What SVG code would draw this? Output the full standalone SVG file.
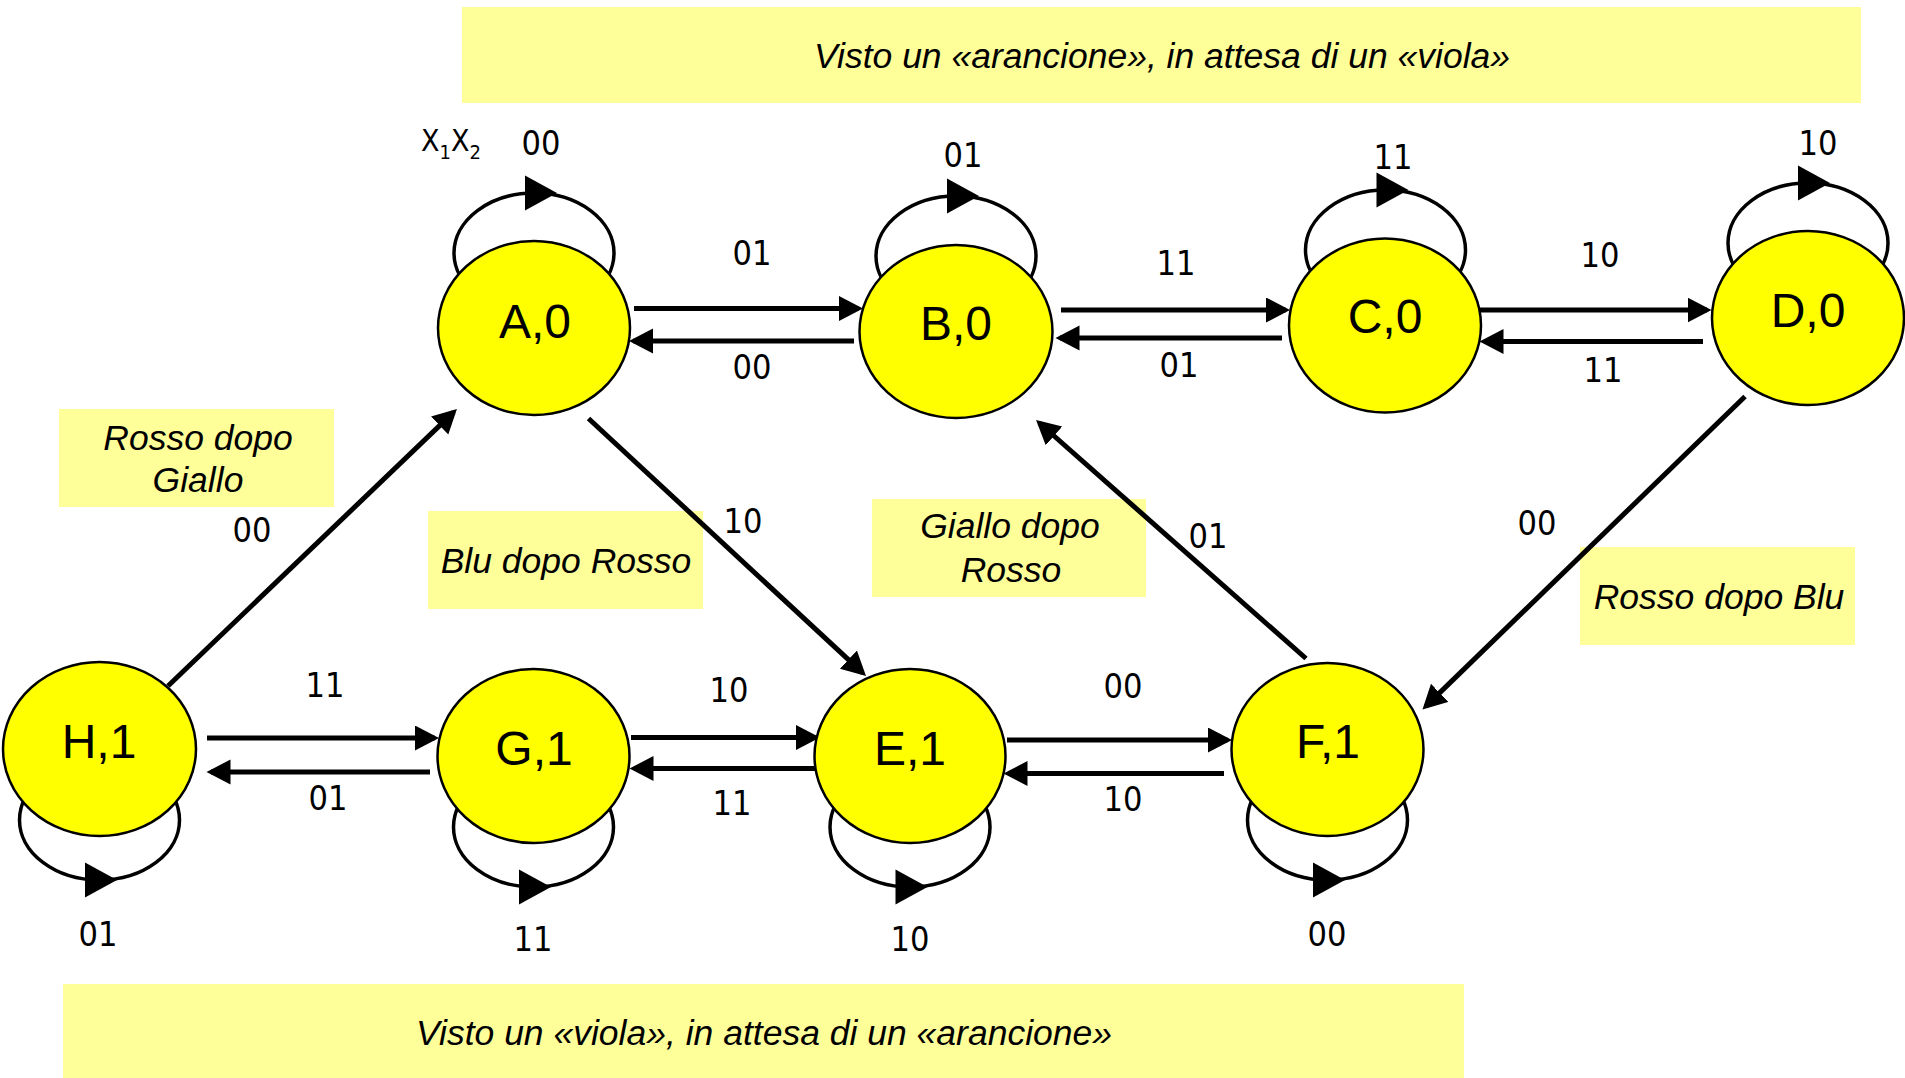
<svg xmlns="http://www.w3.org/2000/svg" xmlns:xlink="http://www.w3.org/1999/xlink" width="1905" height="1078" viewBox="0 0 1905 1078">
  <style>
    .state { fill: #FFFF00; stroke: #000; stroke-width: 2.5; }
    .state-label { font-family: "Liberation Sans", Arial, sans-serif; font-size: 48px; fill: #000; text-anchor: middle; }
    .note { fill: #FFFF99; stroke: none; }
    .note-text { font-family: "Liberation Sans", Arial, sans-serif; font-style: italic; font-size: 35.5px; fill: #000; text-anchor: middle; }
    .edge { fill: none; stroke: #000; stroke-width: 5; marker-end: url(#head); }
    .loop { fill: none; stroke: #000; stroke-width: 3.5; }
    .lbl { font-family: "DejaVu Sans Condensed", "DejaVu Sans", sans-serif; font-stretch: condensed; font-size: 34px; fill: #000; text-anchor: middle; }
    .vars { font-family: "DejaVu Sans Condensed", "DejaVu Sans", sans-serif; font-stretch: condensed; font-size: 30px; fill: #000; }
  </style>
  <defs>
    <marker id="head" markerUnits="userSpaceOnUse" markerWidth="26" markerHeight="26" refX="19.5" refY="12.5" orient="auto" viewBox="0 0 26 26">
      <path d="M0,0 L24,12.5 L0,25 Z" fill="#000"/>
    </marker>
    <path id="loopHead" d="M-16,-17.5 L16,0 L-16,17.5 Z" fill="#000"/>
  </defs>

  <rect width="1905" height="1078" fill="#fff"/>

  <!-- annotation boxes -->
  <g id="notes">
    <g id="note-top">
      <rect class="note" x="462" y="7" width="1399" height="96"/>
      <text class="note-text" x="1162" y="68">Visto un «arancione», in attesa di un «viola»</text>
    </g>
    <g id="note-bottom">
      <rect class="note" x="63" y="984" width="1401" height="94"/>
      <text class="note-text" x="764" y="1045">Visto un «viola», in attesa di un «arancione»</text>
    </g>
    <g id="note-rg">
      <rect class="note" x="59" y="409" width="275" height="98"/>
      <text class="note-text" x="198" y="450">Rosso dopo</text>
      <text class="note-text" x="198" y="492">Giallo</text>
    </g>
    <g id="note-br">
      <rect class="note" x="428" y="511" width="275" height="98"/>
      <text class="note-text" x="566" y="573">Blu dopo Rosso</text>
    </g>
    <g id="note-gr">
      <rect class="note" x="872" y="499" width="274" height="98"/>
      <text class="note-text" x="1010" y="538">Giallo dopo</text>
      <text class="note-text" x="1011" y="582">Rosso</text>
    </g>
    <g id="note-rb">
      <rect class="note" x="1580" y="547" width="275" height="98"/>
      <text class="note-text" x="1719" y="609">Rosso dopo Blu</text>
    </g>
  </g>

  <!-- transitions -->
  <g id="connectors">
    <!-- self loops (lower part hidden behind the state) -->
    <ellipse class="loop" cx="534" cy="253" rx="80" ry="60"/>
    <use xlink:href="#loopHead" x="541" y="193"/>
    <ellipse class="loop" cx="956" cy="256" rx="80" ry="60"/>
    <use xlink:href="#loopHead" x="963" y="196"/>
    <ellipse class="loop" cx="1385.5" cy="250" rx="80" ry="60"/>
    <use xlink:href="#loopHead" x="1392.5" y="190"/>
    <ellipse class="loop" cx="1808" cy="243" rx="80" ry="60"/>
    <use xlink:href="#loopHead" x="1814" y="183"/>

    <ellipse class="loop" cx="99.5" cy="820" rx="80" ry="60"/>
    <use xlink:href="#loopHead" x="101" y="880"/>
    <ellipse class="loop" cx="533.5" cy="827" rx="80" ry="60"/>
    <use xlink:href="#loopHead" x="535" y="887"/>
    <ellipse class="loop" cx="910" cy="827" rx="80" ry="60"/>
    <use xlink:href="#loopHead" x="911.5" y="887"/>
    <ellipse class="loop" cx="1327.5" cy="820" rx="80" ry="60"/>
    <use xlink:href="#loopHead" x="1329" y="880"/>

    <!-- top row -->
    <path class="edge" d="M634,308.5 L858.5,308.5"/>
    <path class="edge" d="M854,341 L633.5,341"/>
    <path class="edge" d="M1061,310 L1285.5,310"/>
    <path class="edge" d="M1282,338 L1060,338"/>
    <path class="edge" d="M1480,310 L1707,310"/>
    <path class="edge" d="M1703,341.5 L1484,341.5"/>

    <!-- bottom row -->
    <path class="edge" d="M207,738 L434.5,738"/>
    <path class="edge" d="M430,772 L211,772"/>
    <path class="edge" d="M631,737.5 L815.5,737.5"/>
    <path class="edge" d="M815,768.5 L634,768.5"/>
    <path class="edge" d="M1007,740 L1227.5,740"/>
    <path class="edge" d="M1224,773.5 L1008,773.5"/>

    <!-- diagonals -->
    <path class="edge" d="M168,686 L453.7,412.1"/>
    <path class="edge" d="M588.5,418.5 L862.7,672.9"/>
    <path class="edge" d="M1306,658.5 L1039.4,423"/>
    <path class="edge" d="M1745,396.5 L1425.7,706.4"/>
  </g>

  <!-- states -->
  <g id="node-A">
    <ellipse class="state" cx="534" cy="328" rx="96" ry="87"/>
    <text class="state-label" x="535" y="338">A,0</text>
  </g>
  <g id="node-B">
    <ellipse class="state" cx="956" cy="331.5" rx="96.5" ry="86.5"/>
    <text class="state-label" x="956" y="340">B,0</text>
  </g>
  <g id="node-C">
    <ellipse class="state" cx="1385" cy="325.5" rx="96" ry="87"/>
    <text class="state-label" x="1385" y="333">C,0</text>
  </g>
  <g id="node-D">
    <ellipse class="state" cx="1808" cy="318" rx="96" ry="87"/>
    <text class="state-label" x="1808" y="327">D,0</text>
  </g>
  <g id="node-H">
    <ellipse class="state" cx="99.5" cy="749" rx="96.5" ry="87"/>
    <text class="state-label" x="99" y="758">H,1</text>
  </g>
  <g id="node-G">
    <ellipse class="state" cx="533.5" cy="756" rx="96" ry="87"/>
    <text class="state-label" x="534" y="765">G,1</text>
  </g>
  <g id="node-E">
    <ellipse class="state" cx="910" cy="756" rx="95.5" ry="87"/>
    <text class="state-label" x="910" y="765">E,1</text>
  </g>
  <g id="node-F">
    <ellipse class="state" cx="1327.5" cy="749.5" rx="96" ry="86.5"/>
    <text class="state-label" x="1328" y="758">F,1</text>
  </g>

  <!-- input labels -->
  <g id="labels">
    <text class="vars" x="421" y="151">X<tspan font-size="20" dy="8">1</tspan><tspan dy="-8">X</tspan><tspan font-size="20" dy="8">2</tspan></text>
    <text class="lbl" x="541" y="155">00</text>
    <text class="lbl" x="963" y="167">01</text>
    <text class="lbl" x="1393" y="169">11</text>
    <text class="lbl" x="1818" y="155">10</text>

    <text class="lbl" x="752" y="265">01</text>
    <text class="lbl" x="752" y="379">00</text>
    <text class="lbl" x="1176" y="275">11</text>
    <text class="lbl" x="1179" y="377">01</text>
    <text class="lbl" x="1600" y="267">10</text>
    <text class="lbl" x="1603" y="382">11</text>

    <text class="lbl" x="252" y="542">00</text>
    <text class="lbl" x="743" y="533">10</text>
    <text class="lbl" x="1208" y="548">01</text>
    <text class="lbl" x="1537" y="535">00</text>

    <text class="lbl" x="325" y="697">11</text>
    <text class="lbl" x="328" y="810">01</text>
    <text class="lbl" x="729" y="702">10</text>
    <text class="lbl" x="732" y="815">11</text>
    <text class="lbl" x="1123" y="698">00</text>
    <text class="lbl" x="1123" y="811">10</text>

    <text class="lbl" x="98" y="946">01</text>
    <text class="lbl" x="533" y="951">11</text>
    <text class="lbl" x="910" y="951">10</text>
    <text class="lbl" x="1327" y="946">00</text>
  </g>
</svg>
